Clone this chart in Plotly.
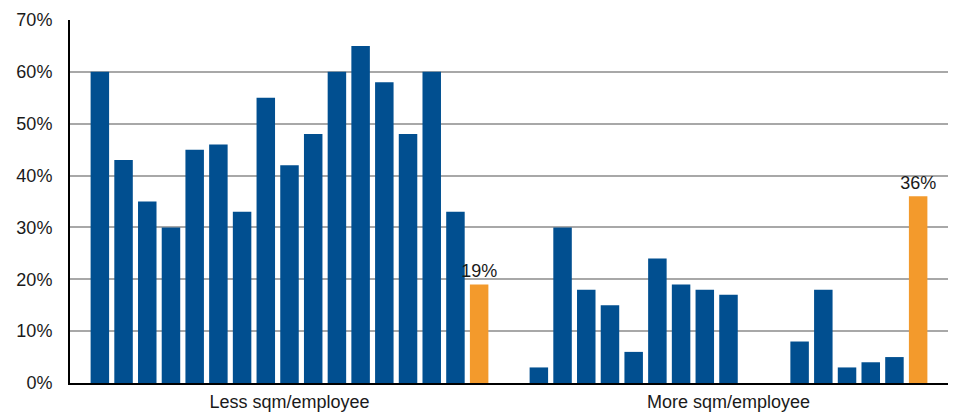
import plotly.graph_objects as go

categories = ["Less sqm/employee", "More sqm/employee"]
# 17 series (16 blue + 1 orange average); values for each category
less_values = [60, 43, 35, 30, 45, 46, 33, 55, 42, 48, 60, 65, 58, 48, 60, 33, 19]
more_values = [3, 30, 18, 15, 6, 24, 19, 18, 17, 0, 0, 8, 18, 3, 4, 5, 36]
series_names = [f"Series {i+1}" for i in range(16)] + ["Average"]

BLUE = "#014F90"
ORANGE = "#F39A2C"
FONT = "Liberation Sans, Arial, sans-serif"

fig = go.Figure()
n = len(series_names)
for i in range(n):
    is_avg = i == n - 1
    vals = [less_values[i], more_values[i]]
    fig.add_trace(go.Bar(
        x=categories,
        y=vals,
        name=series_names[i],
        marker=dict(color=ORANGE if is_avg else BLUE, line=dict(width=0)),
        text=[f"{v}%" for v in vals] if is_avg else None,
        textposition="outside" if is_avg else None,
        constraintext="none",
        textfont=dict(family=FONT, size=18, color="#1a1a1a"),
        cliponaxis=False,
        showlegend=False,
    ))

fig.update_layout(
    width=955, height=415,
    margin=dict(l=70, r=7, t=20, b=32),
    barmode="group",
    bargap=0.082,
    bargroupgap=0.22,
    plot_bgcolor="white",
    paper_bgcolor="white",
    font=dict(family=FONT, size=18, color="#1a1a1a"),
    showlegend=False,
)
fig.update_yaxes(
    range=[0, 70], dtick=10, ticksuffix="%",
    showgrid=True, gridcolor="#A8A8A8", gridwidth=1.5,
    showline=True, linecolor="black", linewidth=2,
    zeroline=False, ticks="", ticklabelstandoff=12, automargin=False,
)
fig.update_xaxes(
    showline=True, linecolor="black", linewidth=2,
    ticks="", showgrid=False, ticklabelstandoff=1, automargin=False,
)

fig.write_html("out.html")
